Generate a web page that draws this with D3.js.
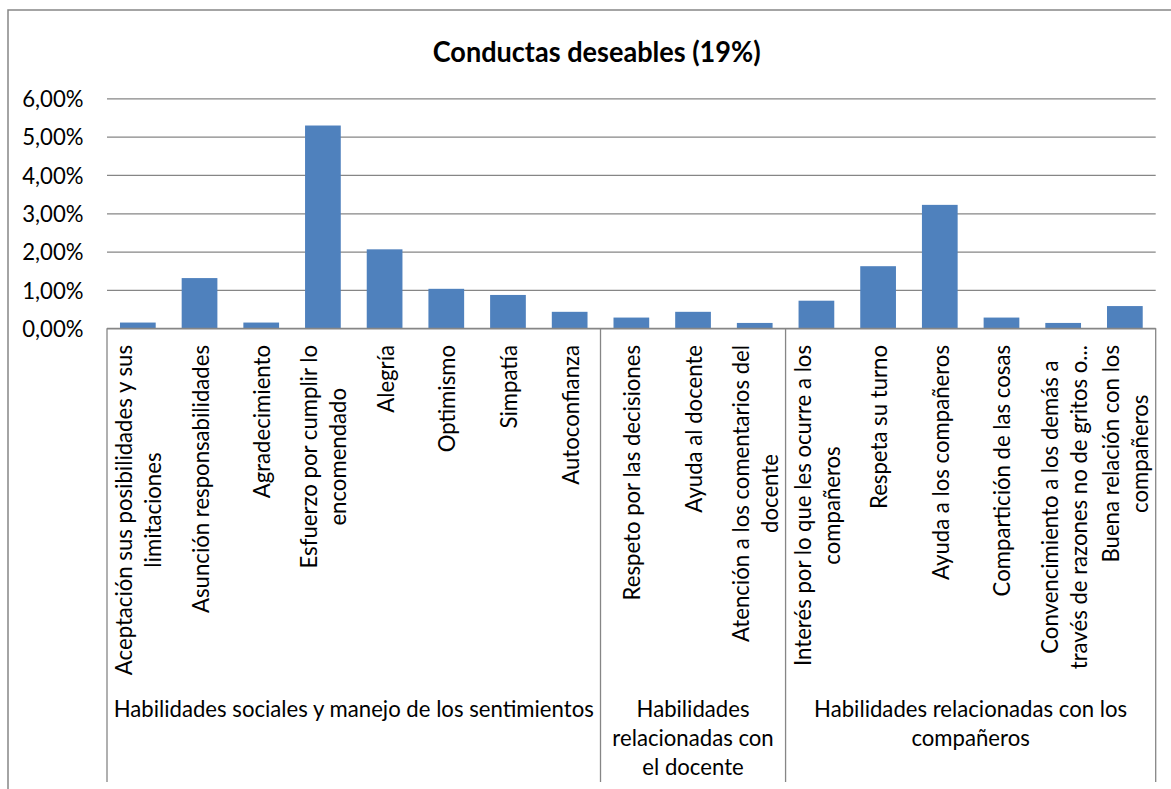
<!DOCTYPE html>
<html>
<head>
<meta charset="utf-8">
<script src="https://cdn.jsdelivr.net/npm/d3@7"></script>
<style>
  html, body { margin: 0; padding: 0; background: #fff; }
  svg { display: block; }
  text { font-family: Lato, "Open Sans", sans-serif; fill: #000; }
</style>
</head>
<body>
<svg id="chart" width="1171" height="789"></svg>
<script>
// ---------- data ----------
const title = "Conductas deseables (19%)";
const categories = [
  "Aceptación sus posibilidades y sus\nlimitaciones",
  "Asunción responsabilidades",
  "Agradecimiento",
  "Esfuerzo por cumplir lo\nencomendado",
  "Alegría",
  "Optimismo",
  "Simpatía",
  "Autoconfianza",
  "Respeto por las decisiones",
  "Ayuda al docente",
  "Atención a los comentarios del\ndocente",
  "Interés por lo que les ocurre a los\ncompañeros",
  "Respeta su turno",
  "Ayuda a los compañeros",
  "Compartición de las cosas",
  "Convencimiento a los demás a\ntravés de razones no de gritos o...",
  "Buena relación con los\ncompañeros"
];
const values = [0.15, 1.31, 0.15, 5.29, 2.06, 1.03, 0.87, 0.43, 0.28, 0.43, 0.14, 0.72, 1.62, 3.22, 0.28, 0.14, 0.58];
const groups = [
  "Habilidades sociales y manejo de los sentimientos",
  "Habilidades\nrelacionadas con\nel docente",
  "Habilidades relacionadas con los\ncompañeros"
];
const groupSizes = [8, 3, 6];
const yTicks = [0, 1, 2, 3, 4, 5, 6];

// ---------- layout ----------
const svg = d3.select("#chart");
const plot = { left: 107, right: 1155.7, top: 98.3, bottom: 328.3 };
const boxBottom = 782;
const gridColor = "#868686";
const barColor = "#4F81BD";

function measure(str, size, weight) {
  const t = svg.append("text").attr("font-size", size).attr("font-weight", weight || "normal").text(str);
  const w = t.node().getComputedTextLength();
  t.remove();
  return w;
}
// Calibri-like: keep glyph height, compress width
const fs = 23.5;
const kx = 268 / measure("Asunción responsabilidades", fs);
const titleFs = 29;
const kTitle = 328 / measure(title, titleFs, "bold");
const lineH = 29;

function fitText(sel, str, size, k, weight) {
  const w = measure(str, size, weight) * k;
  sel.attr("font-size", size).text(str)
    .attr("textLength", w).attr("lengthAdjust", "spacingAndGlyphs");
  if (weight) sel.attr("font-weight", weight);
  return w;
}

// outer border
svg.append("rect")
  .attr("x", 8).attr("y", 10).attr("width", 1300).attr("height", 1000)
  .attr("fill", "none").attr("stroke", gridColor).attr("stroke-width", 1.5);

// title
fitText(svg.append("text").attr("x", 596.7).attr("y", 61.7).attr("text-anchor", "middle"),
  title, titleFs, kTitle, "bold");

const idx = categories.map((d, i) => i);
const xSlot = d3.scaleBand().domain(idx).range([plot.left, plot.right]).padding(0);
const x = d3.scaleBand().domain(idx).range([plot.left, plot.right]).paddingInner(0.421).paddingOuter(0.2105);
const y = d3.scaleLinear().domain([0, 6]).range([plot.bottom, plot.top]);

const fmt = d => d.toFixed(2).replace(".", ",") + "%";

// gridlines
const grid = svg.append("g")
  .attr("transform", `translate(${plot.left},0)`)
  .call(d3.axisLeft(y).tickValues(yTicks).tickSize(-(plot.right - plot.left)).tickFormat(""));
grid.select(".domain").remove();
grid.selectAll("line").attr("stroke", gridColor).attr("stroke-width", 1.3);

// y labels
const yAxis = svg.append("g")
  .attr("transform", `translate(83.5,0)`)
  .call(d3.axisLeft(y).tickValues(yTicks).tickSize(0).tickPadding(0).tickFormat(fmt));
yAxis.select(".domain").remove();
yAxis.selectAll("text")
  .attr("font-family", "Lato, 'Open Sans', sans-serif")
  .attr("fill", "#000")
  .attr("dy", "0.35em")
  .each(function(d) { fitText(d3.select(this), fmt(d), fs, kx); });

// bars
svg.append("g").selectAll("rect")
  .data(values)
  .join("rect")
  .attr("x", (d, i) => x(i))
  .attr("width", x.bandwidth())
  .attr("y", d => y(d))
  .attr("height", d => y(0) - y(d))
  .attr("fill", barColor);

// category axis box
const boxG = svg.append("g").attr("stroke", gridColor).attr("stroke-width", 1.3);
boxG.append("line").attr("x1", plot.left).attr("x2", plot.right).attr("y1", y(0)).attr("y2", y(0));
let bounds = [0];
groupSizes.reduce((acc, n) => { bounds.push(acc + n); return acc + n; }, 0);
bounds.forEach(b => {
  const bx = b < categories.length ? xSlot(b) : plot.right;
  boxG.append("line").attr("x1", bx).attr("x2", bx).attr("y1", y(0)).attr("y2", boxBottom);
});

// category labels (rotated, lines centered, block top-aligned)
const labelTop = 345;
const catG = svg.append("g");
categories.forEach((c, i) => {
  const lines = c.split("\n");
  const maxL = d3.max(lines, l => measure(l, fs) * kx);
  const cy = labelTop + maxL / 2;
  const cx = xSlot(i) + xSlot.bandwidth() / 2;
  lines.forEach((l, j) => {
    const off = (j - (lines.length - 1) / 2) * lineH;
    fitText(catG.append("text")
      .attr("transform", `translate(${cx + off},${cy}) rotate(-90)`)
      .attr("text-anchor", "middle")
      .attr("dominant-baseline", "central"), l, fs, kx);
  });
});

// group labels
const groupG = svg.append("g");
groups.forEach((g, k) => {
  const start = bounds[k], end = bounds[k + 1];
  const x0 = xSlot(start);
  const x1 = end < categories.length ? xSlot(end) : plot.right;
  const gx = (x0 + x1) / 2;
  g.split("\n").forEach((l, j) => {
    fitText(groupG.append("text")
      .attr("x", gx).attr("y", 716.7 + j * lineH)
      .attr("text-anchor", "middle"), l, fs, kx);
  });
});
</script>
</body>
</html>
